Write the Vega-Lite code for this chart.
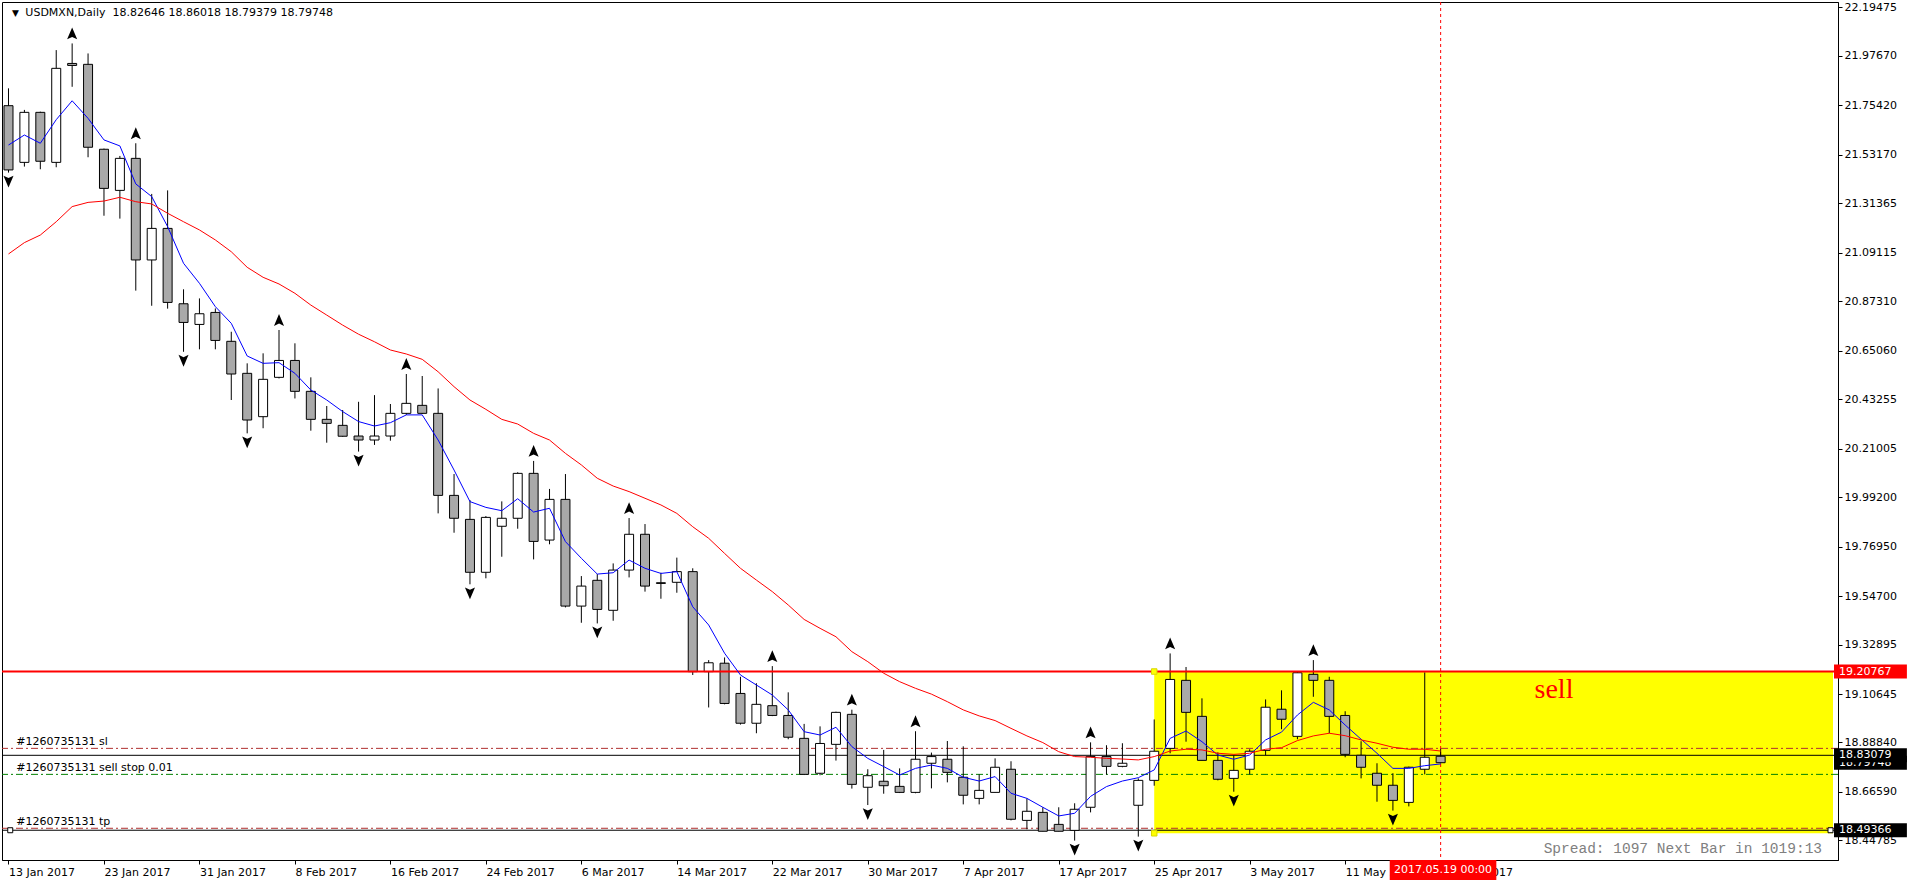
{
"$schema": "https://vega.github.io/schema/vega-lite/v6.json",
"width": 1836, "height": 858,
"autosize": {"type": "none"},
"padding": {"left": 2, "top": 2, "right": 72, "bottom": 24},
"background": "#ffffff",
"config": {"view": {"stroke": "#000000", "strokeWidth": 1}, "text": {"font": "DejaVu Sans"}},
"datasets": {
"bars": [
{"i":0,"o":21.753,"h":21.831,"l":21.452,"c":21.464,"fa":21.576,"sl":21.086,"f":"d"},
{"i":1,"o":21.498,"h":21.734,"l":21.479,"c":21.723,"fa":21.621,"sl":21.137},
{"i":2,"o":21.723,"h":21.726,"l":21.467,"c":21.503,"fa":21.584,"sl":21.171},
{"i":3,"o":21.498,"h":22.003,"l":21.476,"c":21.921,"fa":21.690,"sl":21.231},
{"i":4,"o":21.943,"h":22.033,"l":21.838,"c":21.934,"fa":21.775,"sl":21.299,"f":"u"},
{"i":5,"o":21.939,"h":21.988,"l":21.521,"c":21.566,"fa":21.696,"sl":21.318},
{"i":6,"o":21.557,"h":21.560,"l":21.258,"c":21.381,"fa":21.599,"sl":21.324},
{"i":7,"o":21.372,"h":21.527,"l":21.245,"c":21.516,"fa":21.572,"sl":21.341},
{"i":8,"o":21.516,"h":21.584,"l":20.921,"c":21.059,"fa":21.401,"sl":21.321,"f":"u"},
{"i":9,"o":21.059,"h":21.356,"l":20.853,"c":21.201,"fa":21.344,"sl":21.311},
{"i":10,"o":21.201,"h":21.372,"l":20.840,"c":20.868,"fa":21.209,"sl":21.269},
{"i":11,"o":20.862,"h":20.927,"l":20.646,"c":20.778,"fa":21.044,"sl":21.231,"f":"d"},
{"i":12,"o":20.769,"h":20.886,"l":20.657,"c":20.817,"fa":20.954,"sl":21.194},
{"i":13,"o":20.823,"h":20.841,"l":20.657,"c":20.697,"fa":20.849,"sl":21.149},
{"i":14,"o":20.693,"h":20.736,"l":20.429,"c":20.546,"fa":20.774,"sl":21.096},
{"i":15,"o":20.549,"h":20.594,"l":20.279,"c":20.339,"fa":20.627,"sl":21.026,"f":"d"},
{"i":16,"o":20.354,"h":20.639,"l":20.302,"c":20.522,"fa":20.594,"sl":20.981},
{"i":17,"o":20.531,"h":20.744,"l":20.526,"c":20.607,"fa":20.597,"sl":20.951,"f":"u"},
{"i":18,"o":20.607,"h":20.684,"l":20.436,"c":20.468,"fa":20.549,"sl":20.909},
{"i":19,"o":20.468,"h":20.531,"l":20.291,"c":20.342,"fa":20.474,"sl":20.856},
{"i":20,"o":20.342,"h":20.402,"l":20.237,"c":20.324,"fa":20.429,"sl":20.811},
{"i":21,"o":20.315,"h":20.384,"l":20.264,"c":20.266,"fa":20.377,"sl":20.766},
{"i":22,"o":20.267,"h":20.421,"l":20.197,"c":20.249,"fa":20.332,"sl":20.725,"f":"d"},
{"i":23,"o":20.249,"h":20.451,"l":20.227,"c":20.267,"fa":20.312,"sl":20.691},
{"i":24,"o":20.267,"h":20.411,"l":20.246,"c":20.369,"fa":20.327,"sl":20.654},
{"i":25,"o":20.369,"h":20.546,"l":20.362,"c":20.414,"fa":20.362,"sl":20.636,"f":"u"},
{"i":26,"o":20.405,"h":20.537,"l":20.366,"c":20.369,"fa":20.362,"sl":20.612},
{"i":27,"o":20.369,"h":20.481,"l":19.919,"c":20.000,"fa":20.249,"sl":20.556},
{"i":28,"o":20.000,"h":20.096,"l":19.832,"c":19.897,"fa":20.114,"sl":20.489},
{"i":29,"o":19.892,"h":19.979,"l":19.600,"c":19.654,"fa":19.972,"sl":20.429,"f":"d"},
{"i":30,"o":19.654,"h":19.907,"l":19.627,"c":19.901,"fa":19.946,"sl":20.387},
{"i":31,"o":19.861,"h":19.973,"l":19.724,"c":19.897,"fa":19.931,"sl":20.342},
{"i":32,"o":19.897,"h":20.104,"l":19.850,"c":20.099,"fa":19.985,"sl":20.321},
{"i":33,"o":20.099,"h":20.155,"l":19.712,"c":19.793,"fa":19.925,"sl":20.279,"f":"u"},
{"i":34,"o":19.799,"h":20.029,"l":19.780,"c":19.982,"fa":19.942,"sl":20.249},
{"i":35,"o":19.982,"h":20.096,"l":19.496,"c":19.502,"fa":19.792,"sl":20.189},
{"i":36,"o":19.502,"h":19.637,"l":19.427,"c":19.592,"fa":19.717,"sl":20.137},
{"i":37,"o":19.618,"h":19.646,"l":19.424,"c":19.487,"fa":19.646,"sl":20.077,"f":"d"},
{"i":38,"o":19.483,"h":19.694,"l":19.436,"c":19.664,"fa":19.652,"sl":20.042},
{"i":39,"o":19.664,"h":19.898,"l":19.631,"c":19.825,"fa":19.709,"sl":20.017,"f":"u"},
{"i":40,"o":19.825,"h":19.871,"l":19.567,"c":19.592,"fa":19.672,"sl":19.987},
{"i":41,"o":19.607,"h":19.652,"l":19.535,"c":19.604,"fa":19.649,"sl":19.957},
{"i":42,"o":19.609,"h":19.720,"l":19.562,"c":19.657,"fa":19.657,"sl":19.919},
{"i":43,"o":19.657,"h":19.672,"l":19.192,"c":19.207,"fa":19.499,"sl":19.859},
{"i":44,"o":19.207,"h":19.259,"l":19.046,"c":19.247,"fa":19.417,"sl":19.807},
{"i":45,"o":19.245,"h":19.271,"l":19.060,"c":19.064,"fa":19.290,"sl":19.739},
{"i":46,"o":19.109,"h":19.184,"l":18.969,"c":18.975,"fa":19.192,"sl":19.672},
{"i":47,"o":18.975,"h":19.155,"l":18.930,"c":19.060,"fa":19.147,"sl":19.619},
{"i":48,"o":19.054,"h":19.232,"l":19.007,"c":19.010,"fa":19.102,"sl":19.567,"f":"u"},
{"i":49,"o":19.010,"h":19.114,"l":18.903,"c":18.912,"fa":19.035,"sl":19.507},
{"i":50,"o":18.907,"h":18.972,"l":18.742,"c":18.745,"fa":18.937,"sl":19.442},
{"i":51,"o":18.750,"h":18.961,"l":18.741,"c":18.884,"fa":18.922,"sl":19.402},
{"i":52,"o":18.880,"h":19.027,"l":18.807,"c":19.024,"fa":18.957,"sl":19.364},
{"i":53,"o":19.015,"h":19.036,"l":18.681,"c":18.700,"fa":18.870,"sl":19.297,"f":"u"},
{"i":54,"o":18.687,"h":18.768,"l":18.607,"c":18.739,"fa":18.817,"sl":19.252,"f":"d"},
{"i":55,"o":18.714,"h":18.855,"l":18.658,"c":18.694,"fa":18.780,"sl":19.200},
{"i":56,"o":18.691,"h":18.772,"l":18.661,"c":18.664,"fa":18.742,"sl":19.162},
{"i":57,"o":18.664,"h":18.939,"l":18.660,"c":18.813,"fa":18.772,"sl":19.132,"f":"u"},
{"i":58,"o":18.795,"h":18.843,"l":18.682,"c":18.825,"fa":18.787,"sl":19.106},
{"i":59,"o":18.813,"h":18.895,"l":18.709,"c":18.754,"fa":18.772,"sl":19.072},
{"i":60,"o":18.732,"h":18.871,"l":18.610,"c":18.651,"fa":18.732,"sl":19.035},
{"i":61,"o":18.637,"h":18.745,"l":18.610,"c":18.673,"fa":18.715,"sl":19.008},
{"i":62,"o":18.664,"h":18.817,"l":18.664,"c":18.777,"fa":18.735,"sl":18.987},
{"i":63,"o":18.768,"h":18.804,"l":18.538,"c":18.543,"fa":18.660,"sl":18.952},
{"i":64,"o":18.538,"h":18.637,"l":18.498,"c":18.579,"fa":18.637,"sl":18.918},
{"i":65,"o":18.574,"h":18.597,"l":18.489,"c":18.489,"fa":18.597,"sl":18.888},
{"i":66,"o":18.520,"h":18.597,"l":18.489,"c":18.489,"fa":18.558,"sl":18.847},
{"i":67,"o":18.493,"h":18.615,"l":18.447,"c":18.588,"fa":18.570,"sl":18.825,"f":"d"},
{"i":68,"o":18.597,"h":18.889,"l":18.574,"c":18.825,"fa":18.646,"sl":18.822,"f":"u"},
{"i":69,"o":18.825,"h":18.876,"l":18.744,"c":18.781,"fa":18.690,"sl":18.817},
{"i":70,"o":18.781,"h":18.885,"l":18.777,"c":18.795,"fa":18.715,"sl":18.814},
{"i":71,"o":18.606,"h":18.727,"l":18.465,"c":18.718,"fa":18.730,"sl":18.810,"f":"d"},
{"i":72,"o":18.718,"h":18.992,"l":18.694,"c":18.849,"fa":18.765,"sl":18.825},
{"i":73,"o":18.862,"h":19.289,"l":18.840,"c":19.172,"fa":18.907,"sl":18.850,"f":"u"},
{"i":74,"o":19.168,"h":19.228,"l":18.892,"c":19.024,"fa":18.940,"sl":18.858},
{"i":75,"o":19.006,"h":19.087,"l":18.808,"c":18.808,"fa":18.892,"sl":18.855},
{"i":76,"o":18.808,"h":18.844,"l":18.718,"c":18.723,"fa":18.832,"sl":18.840},
{"i":77,"o":18.727,"h":18.831,"l":18.667,"c":18.763,"fa":18.813,"sl":18.835,"f":"d"},
{"i":78,"o":18.768,"h":18.858,"l":18.745,"c":18.849,"fa":18.832,"sl":18.840},
{"i":79,"o":18.853,"h":19.082,"l":18.831,"c":19.047,"fa":18.900,"sl":18.858},
{"i":80,"o":19.038,"h":19.123,"l":18.948,"c":18.993,"fa":18.935,"sl":18.865},
{"i":81,"o":18.916,"h":19.207,"l":18.903,"c":19.202,"fa":19.012,"sl":18.897},
{"i":82,"o":19.195,"h":19.259,"l":19.094,"c":19.168,"fa":19.069,"sl":18.918,"f":"u"},
{"i":83,"o":19.168,"h":19.184,"l":18.930,"c":19.006,"fa":19.035,"sl":18.930},
{"i":84,"o":19.010,"h":19.029,"l":18.822,"c":18.835,"fa":18.967,"sl":18.919},
{"i":85,"o":18.831,"h":18.894,"l":18.727,"c":18.777,"fa":18.903,"sl":18.900},
{"i":86,"o":18.750,"h":18.795,"l":18.622,"c":18.696,"fa":18.840,"sl":18.885},
{"i":87,"o":18.696,"h":18.750,"l":18.582,"c":18.628,"fa":18.772,"sl":18.867,"f":"d"},
{"i":88,"o":18.619,"h":18.780,"l":18.601,"c":18.777,"fa":18.772,"sl":18.858},
{"i":89,"o":18.768,"h":19.204,"l":18.745,"c":18.822,"fa":18.784,"sl":18.858},
{"i":90,"o":18.82646,"h":18.86018,"l":18.79379,"c":18.79748,"fa":18.792,"sl":18.850}
]
},
"layer": [
{"data": {"values": [{"a": 72, "b": 114.65625, "t": 19.20767, "u": 18.48}]},
 "mark": {"type": "rect", "fill": "#ffff00", "clip": true},
 "encoding": {
  "x": {"field": "a", "type": "quantitative", "scale": {"domain": [-0.09375, 114.65625], "nice": false, "zero": false},
        "axis": {"values": [0,6,12,18,24,30,36,42,48,54,60,66,72,78,84,90],
                 "labelExpr": "['13 Jan 2017','23 Jan 2017','31 Jan 2017','8 Feb 2017','16 Feb 2017','24 Feb 2017','6 Mar 2017','14 Mar 2017','22 Mar 2017','30 Mar 2017','7 Apr 2017','17 Apr 2017','25 Apr 2017','3 May 2017','11 May 2017','19 May 2017'][round(datum.value/6)]",
                 "labelAlign": "left", "labelBaseline": "top", "labelPadding": 2, "tickSize": 4, "tickColor": "#000000",
                 "domainColor": "#000000", "labelColor": "#000000", "labelFont": "DejaVu Sans", "labelFontSize": 11,
                 "grid": false, "title": null, "labelOverlap": false, "labelFlush": false, "labelBound": false}},
  "x2": {"field": "b"},
  "y": {"field": "t", "type": "quantitative", "scale": {"domain": [18.3598, 22.2194], "nice": false, "zero": false},
        "axis": {"orient": "right", "values": [22.19475,21.9767,21.7542,21.5317,21.31365,21.09115,20.8731,20.6506,20.43255,20.21005,19.992,19.7695,19.547,19.32895,19.10645,18.8884,18.6659,18.44785],
                 "format": ".5f", "labelAlign": "left", "labelBaseline": "middle", "labelPadding": 2, "tickSize": 4,
                 "tickColor": "#000000", "domainColor": "#000000", "labelColor": "#000000", "labelFont": "DejaVu Sans",
                 "labelFontSize": 11, "grid": false, "title": null, "labelOverlap": false, "labelFlush": false, "labelBound": false}},
  "y2": {"field": "u"}
 }},
{"data": {"values": [{"p": 18.862}, {"p": 18.5025}]},
 "mark": {"type": "rule", "color": "#b03030", "strokeWidth": 1, "strokeDash": [7, 3, 2, 3]},
 "encoding": {"y": {"field": "p", "type": "quantitative", "scale": {"domain": [18.3598, 22.2194], "nice": false, "zero": false}}}},
{"data": {"values": [{"p": 18.745}]},
 "mark": {"type": "rule", "color": "#008000", "strokeWidth": 1, "strokeDash": [7, 3, 2, 3]},
 "encoding": {"y": {"field": "p", "type": "quantitative", "scale": {"domain": [18.3598, 22.2194], "nice": false, "zero": false}}}},
{"data": {"values": [{"p": 18.83079}, {"p": 18.49366}]},
 "mark": {"type": "rule", "color": "#000000", "strokeWidth": 1},
 "encoding": {"y": {"field": "p", "type": "quantitative", "scale": {"domain": [18.3598, 22.2194], "nice": false, "zero": false}}}},
{"data": {"values": [{"i": 90}]},
 "mark": {"type": "rule", "color": "#ff0000", "strokeWidth": 1, "strokeDash": [3, 3]},
 "encoding": {"x": {"field": "i", "type": "quantitative", "scale": {"domain": [-0.09375, 114.65625], "nice": false, "zero": false}}}},
{"data": {"name": "bars"},
 "mark": {"type": "rule", "color": "#000000", "strokeWidth": 1, "clip": true},
 "encoding": {
  "x": {"field": "i", "type": "quantitative", "scale": {"domain": [-0.09375, 114.65625], "nice": false, "zero": false}},
  "y": {"field": "l", "type": "quantitative", "scale": {"domain": [18.3598, 22.2194], "nice": false, "zero": false}},
  "y2": {"field": "h"}}},
{"data": {"name": "bars"},
 "mark": {"type": "bar", "width": 9, "stroke": "#000000", "strokeWidth": 1, "clip": true},
 "encoding": {
  "x": {"field": "i", "type": "quantitative", "scale": {"domain": [-0.09375, 114.65625], "nice": false, "zero": false}},
  "y": {"field": "o", "type": "quantitative", "scale": {"domain": [18.3598, 22.2194], "nice": false, "zero": false}},
  "y2": {"field": "c"},
  "fill": {"condition": {"test": "datum.c >= datum.o", "value": "#ffffff"}, "value": "#a9a9a9"}}},
{"data": {"values": [{"p": 19.20767}]},
 "mark": {"type": "rule", "color": "#ff0000", "strokeWidth": 2},
 "encoding": {"y": {"field": "p", "type": "quantitative", "scale": {"domain": [18.3598, 22.2194], "nice": false, "zero": false}}}},
{"data": {"name": "bars"},
 "mark": {"type": "line", "color": "#0000ff", "strokeWidth": 1, "clip": true},
 "encoding": {
  "x": {"field": "i", "type": "quantitative", "scale": {"domain": [-0.09375, 114.65625], "nice": false, "zero": false}},
  "y": {"field": "fa", "type": "quantitative", "scale": {"domain": [18.3598, 22.2194], "nice": false, "zero": false}}}},
{"data": {"name": "bars"},
 "mark": {"type": "line", "color": "#ff0000", "strokeWidth": 1, "clip": true},
 "encoding": {
  "x": {"field": "i", "type": "quantitative", "scale": {"domain": [-0.09375, 114.65625], "nice": false, "zero": false}},
  "y": {"field": "sl", "type": "quantitative", "scale": {"domain": [18.3598, 22.2194], "nice": false, "zero": false}}}},
{"data": {"name": "bars"},
 "transform": [{"filter": "datum.f == 'u'"}],
 "mark": {"type": "point", "shape": "M0,-1L0.85,1L0,0.6L-0.85,1Z", "filled": true, "color": "#000000", "size": 140, "yOffset": -10, "opacity": 1, "clip": true},
 "encoding": {
  "x": {"field": "i", "type": "quantitative", "scale": {"domain": [-0.09375, 114.65625], "nice": false, "zero": false}},
  "y": {"field": "h", "type": "quantitative", "scale": {"domain": [18.3598, 22.2194], "nice": false, "zero": false}}}},
{"data": {"name": "bars"},
 "transform": [{"filter": "datum.f == 'd'"}],
 "mark": {"type": "point", "shape": "M0,1L0.85,-1L0,-0.6L-0.85,-1Z", "filled": true, "color": "#000000", "size": 140, "yOffset": 9, "opacity": 1, "clip": true},
 "encoding": {
  "x": {"field": "i", "type": "quantitative", "scale": {"domain": [-0.09375, 114.65625], "nice": false, "zero": false}},
  "y": {"field": "l", "type": "quantitative", "scale": {"domain": [18.3598, 22.2194], "nice": false, "zero": false}}}},
{"data": {"values": [{"i": 0.11, "p": 18.49366}, {"i": 114.5, "p": 18.49366}]},
 "mark": {"type": "point", "shape": "square", "filled": true, "fill": "#ffffff", "stroke": "#000000", "strokeWidth": 1, "size": 25, "opacity": 1},
 "encoding": {
  "x": {"field": "i", "type": "quantitative", "scale": {"domain": [-0.09375, 114.65625], "nice": false, "zero": false}},
  "y": {"field": "p", "type": "quantitative", "scale": {"domain": [18.3598, 22.2194], "nice": false, "zero": false}}}},
{"data": {"values": [{"i": 72, "p": 19.20767}, {"i": 72, "p": 18.48}]},
 "mark": {"type": "point", "shape": "square", "filled": true, "fill": "#ffff00", "stroke": "#d8d800", "strokeWidth": 1, "size": 30, "opacity": 1},
 "encoding": {
  "x": {"field": "i", "type": "quantitative", "scale": {"domain": [-0.09375, 114.65625], "nice": false, "zero": false}},
  "y": {"field": "p", "type": "quantitative", "scale": {"domain": [18.3598, 22.2194], "nice": false, "zero": false}}}},
{"data": {"values": [{"i": 0.49, "p": 18.862, "t": "#1260735131 sl"}, {"i": 0.49, "p": 18.745, "t": "#1260735131 sell stop 0.01"}, {"i": 0.49, "p": 18.5025, "t": "#1260735131 tp"}]},
 "mark": {"type": "text", "align": "left", "baseline": "bottom", "dy": -1, "font": "DejaVu Sans", "fontSize": 11, "color": "#000000"},
 "encoding": {
  "x": {"field": "i", "type": "quantitative", "scale": {"domain": [-0.09375, 114.65625], "nice": false, "zero": false}},
  "y": {"field": "p", "type": "quantitative", "scale": {"domain": [18.3598, 22.2194], "nice": false, "zero": false}},
  "text": {"field": "t"}}},
{"data": {"values": [{"i": 95.9, "p": 19.0885, "t": "sell"}]},
 "mark": {"type": "text", "align": "left", "baseline": "alphabetic", "font": "Liberation Serif", "fontSize": 28, "color": "#ff0000"},
 "encoding": {
  "x": {"field": "i", "type": "quantitative", "scale": {"domain": [-0.09375, 114.65625], "nice": false, "zero": false}},
  "y": {"field": "p", "type": "quantitative", "scale": {"domain": [18.3598, 22.2194], "nice": false, "zero": false}},
  "text": {"field": "t"}}},
{"data": {"values": [{"i": 0.44, "p": 22.1713, "t": "▼"}]},
 "mark": {"type": "text", "align": "center", "baseline": "middle", "font": "DejaVu Sans", "fontSize": 9, "color": "#000000"},
 "encoding": {
  "x": {"field": "i", "type": "quantitative", "scale": {"domain": [-0.09375, 114.65625], "nice": false, "zero": false}},
  "y": {"field": "p", "type": "quantitative", "scale": {"domain": [18.3598, 22.2194], "nice": false, "zero": false}},
  "text": {"field": "t"}}},
{"data": {"values": [{"i": 1.06, "p": 22.1713, "t": "USDMXN,Daily\u00a0 18.82646 18.86018 18.79379 18.79748"}]},
 "mark": {"type": "text", "align": "left", "baseline": "middle", "font": "DejaVu Sans", "fontSize": 11, "color": "#000000"},
 "encoding": {
  "x": {"field": "i", "type": "quantitative", "scale": {"domain": [-0.09375, 114.65625], "nice": false, "zero": false}},
  "y": {"field": "p", "type": "quantitative", "scale": {"domain": [18.3598, 22.2194], "nice": false, "zero": false}},
  "text": {"field": "t"}}},
{"data": {"values": [{"i": 113.97, "p": 18.4093, "t": "Spread: 1097 Next Bar in 1019:13"}]},
 "mark": {"type": "text", "align": "right", "baseline": "middle", "font": "Liberation Mono", "fontSize": 14.5, "color": "#808080"},
 "encoding": {
  "x": {"field": "i", "type": "quantitative", "scale": {"domain": [-0.09375, 114.65625], "nice": false, "zero": false}},
  "y": {"field": "p", "type": "quantitative", "scale": {"domain": [18.3598, 22.2194], "nice": false, "zero": false}},
  "text": {"field": "t"}}},
{"data": {"values": [{"a": 114.72, "b": 119.3, "p": 19.20767}]},
 "mark": {"type": "rect", "fill": "#ff0000", "yOffset": -7, "y2Offset": 7},
 "encoding": {
  "x": {"field": "a", "type": "quantitative", "scale": {"domain": [-0.09375, 114.65625], "nice": false, "zero": false}},
  "x2": {"field": "b"},
  "y": {"field": "p", "type": "quantitative", "scale": {"domain": [18.3598, 22.2194], "nice": false, "zero": false}},
  "y2": {"field": "p"}}},
{"data": {"values": [{"a": 114.72, "b": 119.3, "p": 18.79748}]},
 "mark": {"type": "rect", "fill": "#000000", "yOffset": -7, "y2Offset": 7},
 "encoding": {
  "x": {"field": "a", "type": "quantitative", "scale": {"domain": [-0.09375, 114.65625], "nice": false, "zero": false}},
  "x2": {"field": "b"},
  "y": {"field": "p", "type": "quantitative", "scale": {"domain": [18.3598, 22.2194], "nice": false, "zero": false}},
  "y2": {"field": "p"}}},
{"data": {"values": [{"i": 115.03, "p": 18.79748, "t": "18.79748"}]},
 "mark": {"type": "text", "align": "left", "baseline": "middle", "font": "DejaVu Sans", "fontSize": 11, "color": "#ffffff"},
 "encoding": {
  "x": {"field": "i", "type": "quantitative", "scale": {"domain": [-0.09375, 114.65625], "nice": false, "zero": false}},
  "y": {"field": "p", "type": "quantitative", "scale": {"domain": [18.3598, 22.2194], "nice": false, "zero": false}},
  "text": {"field": "t"}}},
{"data": {"values": [{"a": 114.72, "b": 119.3, "p": 18.83079}, {"a": 114.72, "b": 119.3, "p": 18.49366}]},
 "mark": {"type": "rect", "fill": "#000000", "yOffset": -7, "y2Offset": 7},
 "encoding": {
  "x": {"field": "a", "type": "quantitative", "scale": {"domain": [-0.09375, 114.65625], "nice": false, "zero": false}},
  "x2": {"field": "b"},
  "y": {"field": "p", "type": "quantitative", "scale": {"domain": [18.3598, 22.2194], "nice": false, "zero": false}},
  "y2": {"field": "p"}}},
{"data": {"values": [{"i": 115.03, "p": 19.20767, "t": "19.20767"}, {"i": 115.03, "p": 18.83079, "t": "18.83079"}, {"i": 115.03, "p": 18.49366, "t": "18.49366"}]},
 "mark": {"type": "text", "align": "left", "baseline": "middle", "font": "DejaVu Sans", "fontSize": 11, "color": "#ffffff"},
 "encoding": {
  "x": {"field": "i", "type": "quantitative", "scale": {"domain": [-0.09375, 114.65625], "nice": false, "zero": false}},
  "y": {"field": "p", "type": "quantitative", "scale": {"domain": [18.3598, 22.2194], "nice": false, "zero": false}},
  "text": {"field": "t"}}},
{"data": {"values": [{"a": 86.8, "b": 93.5, "t": 18.3598, "u": 18.2698}]},
 "mark": {"type": "rect", "fill": "#ff0000"},
 "encoding": {
  "x": {"field": "a", "type": "quantitative", "scale": {"domain": [-0.09375, 114.65625], "nice": false, "zero": false}},
  "x2": {"field": "b"},
  "y": {"field": "t", "type": "quantitative", "scale": {"domain": [18.3598, 22.2194], "nice": false, "zero": false}},
  "y2": {"field": "u"}}},
{"data": {"values": [{"i": 90.15, "p": 18.3148, "t": "2017.05.19 00:00"}]},
 "mark": {"type": "text", "align": "center", "baseline": "middle", "font": "DejaVu Sans", "fontSize": 11, "color": "#ffffff"},
 "encoding": {
  "x": {"field": "i", "type": "quantitative", "scale": {"domain": [-0.09375, 114.65625], "nice": false, "zero": false}},
  "y": {"field": "p", "type": "quantitative", "scale": {"domain": [18.3598, 22.2194], "nice": false, "zero": false}},
  "text": {"field": "t"}}}
]
}
